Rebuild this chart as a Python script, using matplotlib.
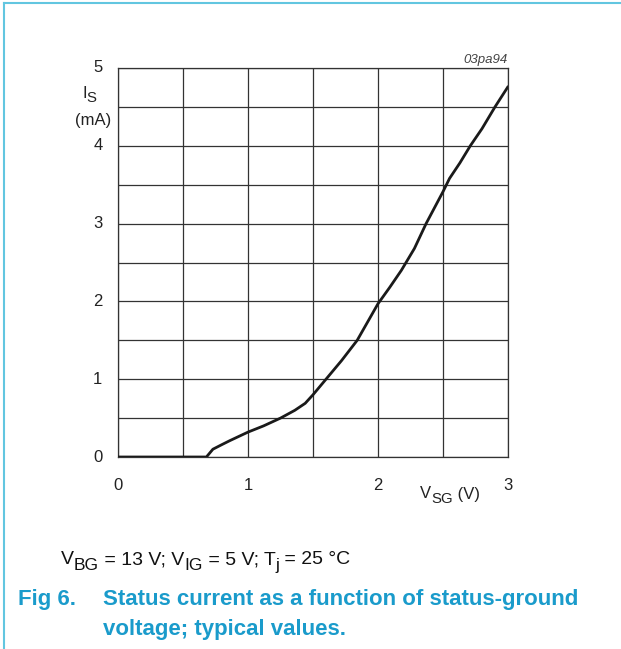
import numpy as np
import matplotlib.pyplot as plt
from matplotlib.lines import Line2D

plt.rcParams['font.family'] = ['Liberation Sans', 'DejaVu Sans']

# status-ground voltage (V) and status current (mA)
vSG = [0, 0.68, 0.73, 0.80, 0.86, 1.0, 1.12, 1.25, 1.36, 1.44, 1.5, 1.6, 1.72, 1.84, 2.0,
       2.09, 2.18, 2.28, 2.37, 2.5, 2.55, 2.63, 2.71, 2.8, 2.9, 3.0]
iS = [0, 0, 0.10, 0.16, 0.21, 0.32, 0.40, 0.50, 0.60, 0.69, 0.80, 1.0, 1.24, 1.5, 1.97,
      2.18, 2.4, 2.68, 3.0, 3.41, 3.58, 3.78, 4.0, 4.22, 4.5, 4.76]

xTicks = [0, 1, 2, 3]
yTicks = [0, 1, 2, 3, 4, 5]

teal = '#1a9bcb'
frame = '#62c6e0'
textColor = '#222222'

fig = plt.figure(figsize=(6.21, 6.49), dpi=100)
ax = fig.add_axes([118/621, 1-457/649, 390/621, 389/649])
renderer = fig.canvas.get_renderer()


def subText(x, y, parts, size, color):
    # parts: list of (text, isSubscript); subscripts keep nearly full size, shifted down
    xPix = x
    for txt, isSub in parts:
        yPix = y + (0.3 * size * 100 / 72 if isSub else 0)
        t = fig.text(xPix / 621, 1 - yPix / 649, txt, fontsize=size * (0.9 if isSub else 1),
                     color=color, va='center', ha='left')
        xPix += t.get_window_extent(renderer).width
    return xPix


ax.plot(vSG, iS, color='#1a1a1a', lw=2.0, solid_capstyle='round', solid_joinstyle='round', zorder=3)

ax.set_xlim(0, 3)
ax.set_ylim(0, 5)
ax.set_xticks(np.arange(0, 3.01, 0.5))
ax.set_yticks(np.arange(0, 5.01, 0.5))
ax.set_xticklabels([])
ax.set_yticklabels([])
ax.tick_params(length=0)
ax.grid(True, color='#333333', lw=0.9)
for s in ax.spines.values():
    s.set_color('#333333')
    s.set_linewidth(0.9)

for v in xTicks:
    ax.text(v, -0.37, str(v), ha='center', va='center', fontsize=12, color=textColor)
for v in yTicks:
    ax.text(-0.12, v, str(v), ha='right', va='center', fontsize=12, color=textColor)

subText(82, 93, [('I', False), ('S', True)], 12, textColor)
fig.text(93/621, 1-120/649, '(mA)', fontsize=12, color=textColor, ha='center', va='center')
subText(420, 494, [('V', False), ('SG', True), (' (V)', False)], 12, textColor)
fig.text(508/621, 1-60/649, '03pa94', fontsize=9.5, style='italic', color='#444444', ha='right', va='center')

subText(61, 560, [('V', False), ('BG', True), (' = 13 V; V', False), ('IG', True),
                  (' = 5 V; T', False), ('j', True), (' = 25 °C', False)], 14, '#111111')
fig.text(18/621, 1-600/649, 'Fig 6.', fontsize=16, fontweight='bold', color=teal, va='center')
fig.text(103/621, 1-600/649, 'Status current as a function of status-ground', fontsize=16,
         fontweight='bold', color=teal, va='center')
fig.text(103/621, 1-630/649, 'voltage; typical values.', fontsize=16,
         fontweight='bold', color=teal, va='center')

fig.add_artist(Line2D([4/621, 4/621], [0, 1-3/649], transform=fig.transFigure, color=frame, lw=1.5))
fig.add_artist(Line2D([4/621, 1], [1-3/649, 1-3/649], transform=fig.transFigure, color=frame, lw=1.5))

fig.savefig('out.png', dpi=100)
